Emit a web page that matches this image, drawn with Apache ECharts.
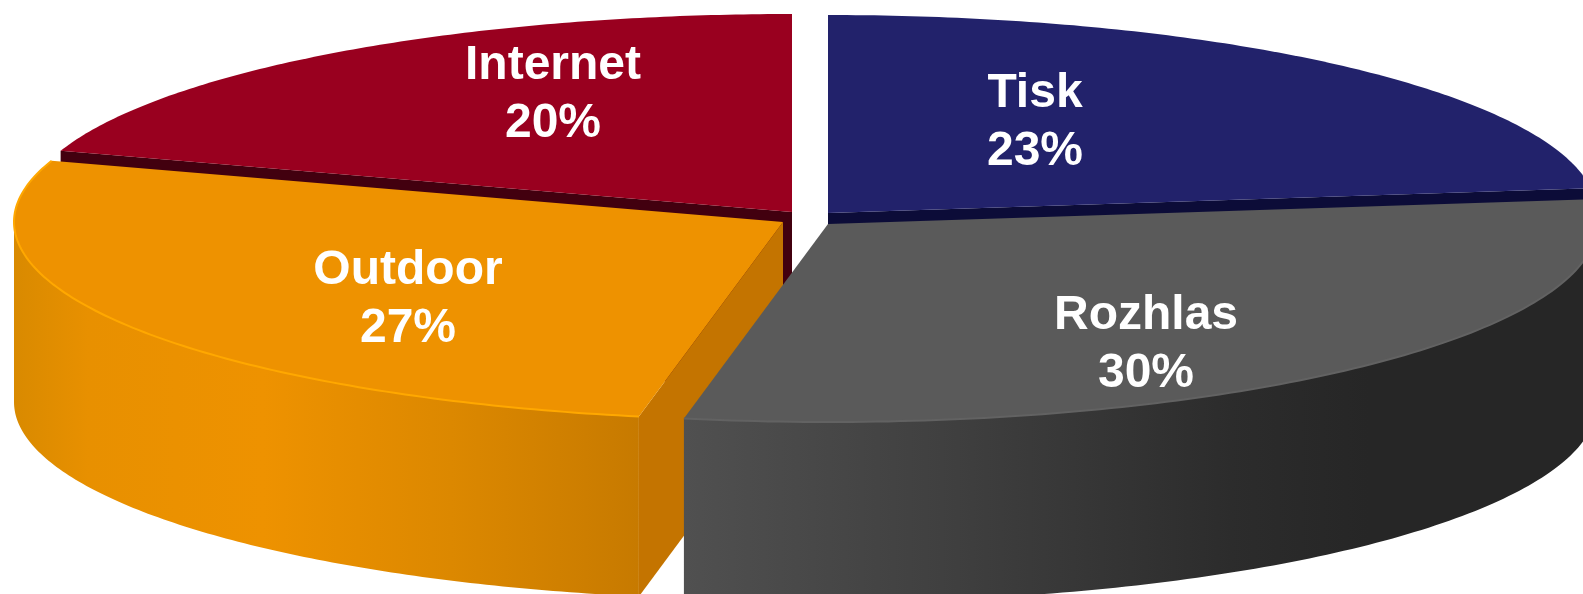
<!DOCTYPE html>
<html>
<head>
<meta charset="utf-8">
<style>html,body{margin:0;padding:0;background:#fff;overflow:hidden}#c{width:1583px;height:594px}</style>
<script src="https://cdn.jsdelivr.net/npm/echarts@6/dist/echarts.min.js"></script>
</head>
<body>
<div id="c"></div>
<script>
// Data, clockwise from 12 o'clock
var categories = ['Tisk', 'Rozhlas', 'Outdoor', 'Internet'];
var shares = [23, 30, 27, 20];

// Layout and style, keyed by category
var RX = 769, RY = 198, DEPTH = 180, STEPS = 120;
var sliceLayout = {
  Tisk:     {cx: 828, cy: 213, lx: 1035, ly: 123, z: 10, top: '#22226B', cut: '#0C0C38', cutEdge: 'end'},
  Rozhlas:  {cx: 828, cy: 224, lx: 1146, ly: 345, z: 30, top: '#5A5A5A', edge: '#626262',
             wall: [[0, '#505050'], [0.3, '#3F3F3F'], [0.6, '#2C2C2C'], [0.75, '#262626'], [1, '#262626']]},
  Outdoor:  {cx: 783, cy: 222, lx: 408,  ly: 300, z: 20, top: '#EE9200', edge: '#FFA800', cut: '#C47400', cutEdge: 'start',
             wall: [[0, '#D98A00'], [0.12, '#E89000'], [0.4, '#EE9200'], [0.7, '#DC8800'], [1, '#C77A00']]},
  Internet: {cx: 792, cy: 212, lx: 553,  ly: 95,  z: 0,  top: '#99001F', cut: '#42000F', cutEdge: 'start'}
};

var total = shares.reduce(function (a, b) { return a + b; }, 0);
var starts = [];
shares.reduce(function (acc, v, i) { starts[i] = acc; return acc + v; }, 0);

function pt(l, a, dy) {
  return [l.cx + RX * Math.sin(a), l.cy - RY * Math.cos(a) + (dy || 0)];
}
function arc(l, a0, a1, dy) {
  var out = [];
  for (var i = 0; i <= STEPS; i++) {
    out.push(pt(l, a0 + (a1 - a0) * i / STEPS, dy));
  }
  return out;
}

function renderItem(params, api) {
  var i = params.dataIndex;
  var name = categories[i];
  var value = api.value(0);
  var l = sliceLayout[name];
  var a0 = starts[i] / total * 2 * Math.PI;
  var a1 = a0 + value / total * 2 * Math.PI;
  var kids = [];

  if (l.wall) {
    // only the part of the rim facing the viewer
    var v0 = Math.max(a0, Math.PI / 2);
    var v1 = Math.min(a1, Math.PI * 1.5);
    kids.push({
      type: 'polygon', z2: l.z, silent: true,
      shape: {points: arc(l, v0, v1, 0).concat(arc(l, v0, v1, DEPTH).reverse())},
      style: {fill: {type: 'linear', x: 0, y: 0, x2: 1, y2: 0,
        colorStops: l.wall.map(function (s) { return {offset: s[0], color: s[1]}; })}}
    });
  }
  if (l.cut) {
    var edgeAngle = l.cutEdge === 'start' ? a0 : a1;
    var c0 = [l.cx, l.cy], p = pt(l, edgeAngle);
    kids.push({
      type: 'polygon', z2: l.z + 1, silent: true,
      shape: {points: [c0, p, [p[0], p[1] + DEPTH], [c0[0], c0[1] + DEPTH]]},
      style: {fill: l.cut}
    });
  }
  kids.push({
    type: 'polygon', z2: l.z + 2, silent: true,
    shape: {points: [[l.cx, l.cy]].concat(arc(l, a0, a1, 0))},
    style: {fill: l.top}
  });
  if (l.edge) {
    kids.push({
      type: 'polyline', z2: l.z + 3, silent: true,
      shape: {points: arc(l, a0, a1, 0)},
      style: {stroke: l.edge, lineWidth: 2, fill: null}
    });
  }
  kids.push({
    type: 'text', z2: 100, silent: true,
    style: {
      text: name + '\n' + value + '%',
      x: l.lx, y: l.ly,
      align: 'center', verticalAlign: 'middle',
      fill: '#FFFFFF',
      font: 'bold 48px "Liberation Sans", Arial, sans-serif',
      lineHeight: 58
    }
  });
  return {type: 'group', children: kids};
}

var chart = echarts.init(document.getElementById('c'), null, {renderer: 'canvas'});
chart.setOption({
  animation: false,
  backgroundColor: '#FFFFFF',
  series: [{
    type: 'custom',
    coordinateSystem: 'none',
    clip: false,
    silent: true,
    data: shares.map(function (v) { return [v]; }),
    renderItem: renderItem
  }]
});
</script>
</body>
</html>
